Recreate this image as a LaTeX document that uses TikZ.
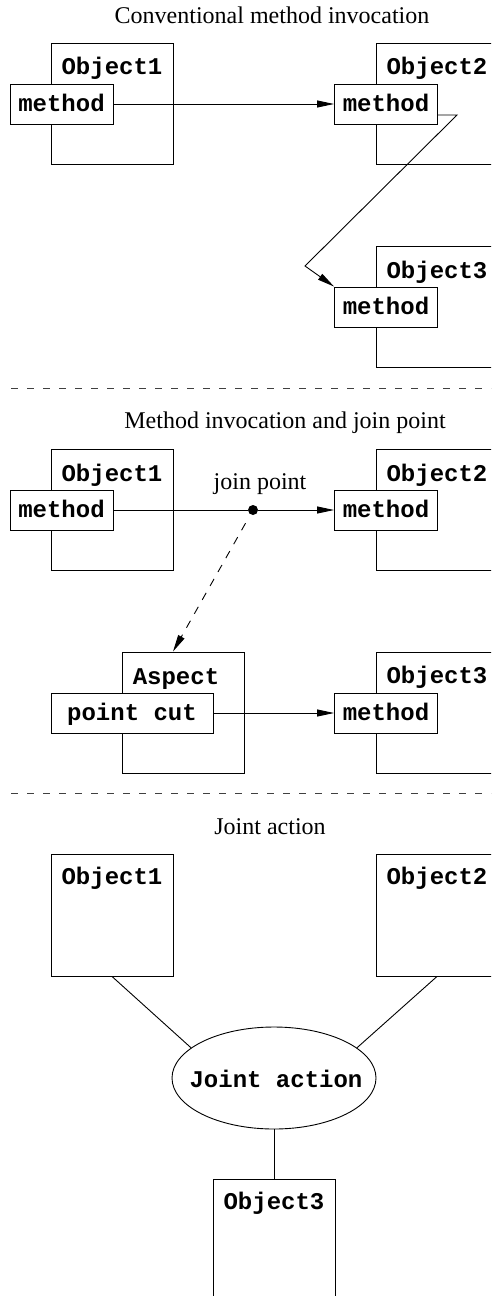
\documentclass[tikz,border=0pt]{standalone}
\usepackage{fontspec}
\setmainfont{Liberation Serif}
\setmonofont{Liberation Mono}
\usetikzlibrary{arrows.meta,shapes.geometric,calc}

\tikzset{
  objbox/.style={draw, line width=0.9pt, minimum width=122pt, minimum height=121pt, inner sep=0pt},
  objname/.style={font=\fontsize{24}{28}\selectfont\ttfamily\bfseries, anchor=base, inner sep=0pt},
  methbox/.style={draw, fill=white, line width=0.9pt, minimum width=103pt, minimum height=40pt,
    inner sep=0pt, text height=15pt, text depth=0pt, font=\fontsize{24}{28}\selectfont\ttfamily\bfseries},
  headline/.style={font=\fontsize{24}{28}\selectfont, anchor=base, inner sep=0pt},
  invoke/.style={line width=0.9pt, -{Triangle[length=17pt,width=7pt]}},
  plainline/.style={line width=0.9pt},
  divider/.style={line width=0.9pt, draw=black!75, dash pattern=on 7pt off 9pt},
  jpdot/.style={circle, fill, inner sep=0pt, minimum size=10pt},
  actionshape/.style={ellipse, draw, line width=0.9pt, minimum width=204pt, minimum height=102pt, inner sep=0pt},
}

\begin{document}
\begin{tikzpicture}[x=1pt, y=-1pt]
  \path[use as bounding box, clip] (0,0) rectangle (491,1296);
  \fill[white] (0,0) rectangle (491,1296);

  % ---------------- Conventional method invocation ----------------
  \node[headline] (t1) at (272,23) {Conventional method invocation};

  \node[objbox] (p1o1) at (112,103.5) {};
  \node[objname] (p1o1n) at ($(p1o1.north)+(0,32)$) {Object1};
  \node[methbox] (p1m1) at (61.5,104) {method};

  \node[objbox] (p1o2) at (437,103.5) {};
  \node[objname] (p1o2n) at ($(p1o2.north)+(0,32)$) {Object2};
  \node[methbox] (p1m2) at (386,104) {method};

  \node[objbox] (p1o3) at (437,307) {};
  \node[objname] (p1o3n) at ($(p1o3.north)+(0,32)$) {Object3};
  \node[methbox] (p1m3) at (386,307) {method};

  \draw[invoke] (p1m1.east) -- (p1m2.west);
  \coordinate (p1bend) at (457,115);
  \coordinate (p1turn) at (305,266);
  \draw[invoke] ($(p1m2.east)+(0,11)$) -- (p1bend) -- (p1turn) -- (p1m3.north west);

  \draw[divider] (11,388) -- (495,388);

  % ---------------- Method invocation and join point ----------------
  \node[headline] (t2) at (285,428) {Method invocation and join point};

  \node[objbox] (p2o1) at (112,510) {};
  \node[objname] (p2o1n) at ($(p2o1.north)+(0,32)$) {Object1};
  \node[methbox] (p2m1) at (61.5,510) {method};

  \node[objbox] (p2o2) at (437,510) {};
  \node[objname] (p2o2n) at ($(p2o2.north)+(0,32)$) {Object2};
  \node[methbox] (p2m2) at (386,510) {method};

  \node[objbox] (aspect) at (183,712.5) {};
  \node[objname] (aspectn) at (176,684) {Aspect};
  \node[methbox, minimum width=162pt] (pcut) at (132,713) {point cut};

  \node[objbox] (p2o3) at (437,712.5) {};
  \node[objname] (p2o3n) at ($(p2o3.north)+(0,32)$) {Object3};
  \node[methbox] (p2m3) at (386,713) {method};

  \node[jpdot] (jp) at (253,510) {};
  \node[headline] (jplabel) at (260,489) {join point};

  \draw[plainline] (p2m1.east) -- (jp);
  \draw[invoke] (jp) -- (p2m2.west);
  \draw[invoke, dash pattern=on 8pt off 8pt, shorten <=10pt] (jp) -- ($(aspect.north)+(-10,0)$);
  \draw[invoke] (pcut.east) -- (p2m3.west);

  \draw[divider] (11,793) -- (495,793);

  % ---------------- Joint action ----------------
  \node[headline] (t3) at (270,834) {Joint action};

  \node[objbox, minimum height=122pt] (p3o1) at (112,915) {};
  \node[objname] (p3o1n) at ($(p3o1.north)+(0,31)$) {Object1};

  \node[objbox, minimum height=122pt] (p3o2) at (437,915) {};
  \node[objname] (p3o2n) at ($(p3o2.north)+(0,31)$) {Object2};

  \node[actionshape] (ja) at (274,1078) {};
  \node[objname] (jan) at (276,1087) {Joint action};

  \node[objbox, minimum height=122pt] (p3o3) at (274,1240) {};
  \node[objname] (p3o3n) at ($(p3o3.north)+(0,31)$) {Object3};

  \draw[plainline] (p3o1.south) -- (ja.160);
  \draw[plainline] (p3o2.south) -- (ja.20);
  \draw[plainline] (ja.south) -- (p3o3.north);
\end{tikzpicture}
\end{document}
